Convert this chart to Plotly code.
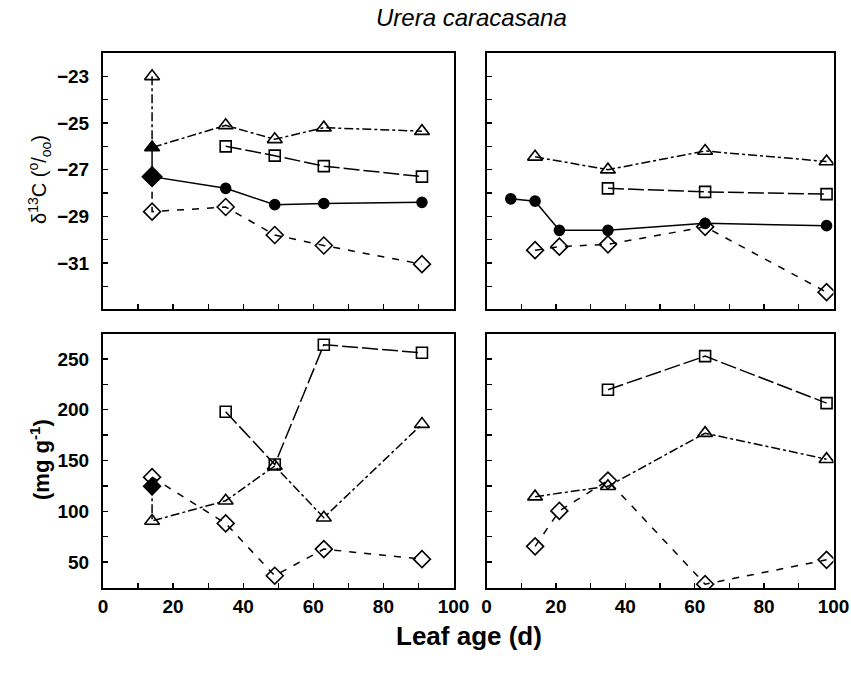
import plotly.graph_objects as go

# ---------------- data ----------------
# Top-left panel (delta 13C), leaf age in days
tl_tri_x = [14, 14, 35, 49, 63, 91]
tl_tri_y = [-23.0, -26.05, -25.1, -25.7, -25.2, -25.35]
tl_sq_x = [35, 49, 63, 91]
tl_sq_y = [-26.0, -26.4, -26.85, -27.3]
tl_circ_x = [14, 14, 35, 49, 63, 91]
tl_circ_y = [-26.05, -27.3, -27.8, -28.5, -28.45, -28.4]
tl_diam_x = [14, 14, 35, 49, 63, 91]
tl_diam_y = [-27.3, -28.8, -28.6, -29.8, -30.25, -31.05]

# Top-right panel
tr_tri_x = [14, 35, 63, 98]
tr_tri_y = [-26.45, -27.0, -26.2, -26.65]
tr_sq_x = [35, 63, 98]
tr_sq_y = [-27.8, -27.95, -28.05]
tr_circ_x = [7, 14, 21, 35, 63, 98]
tr_circ_y = [-28.25, -28.35, -29.6, -29.6, -29.3, -29.4]
tr_diam_x = [14, 21, 35, 63, 98]
tr_diam_y = [-30.45, -30.3, -30.2, -29.45, -32.25]

# Bottom-left panel (mg g-1)
bl_sq_x = [35, 49, 63, 91]
bl_sq_y = [198, 146, 264, 256]
bl_tri_x = [14, 14, 35, 49, 63, 91]
bl_tri_y = [124.6, 90.5, 110.4, 144.6, 93.7, 185.8]
bl_diam_x = [14, 35, 49, 63, 91]
bl_diam_y = [133.6, 88.1, 36.6, 62.8, 52.9]

# Bottom-right panel
br_sq_x = [35, 63, 98]
br_sq_y = [219.7, 252.7, 206.5]
br_tri_x = [14, 35, 63, 98]
br_tri_y = [114.4, 124.6, 176.9, 151.3]
br_diam_x = [14, 21, 35, 63, 98]
br_diam_y = [65.5, 100.4, 130.3, 28.3, 52.2]

x_ticks_labels = ["0", "20", "40", "60", "80", "100"]

# ---------------- styles ----------------
DASH_TRI = "9px,3px,3px,3px"
DASH_SQ = "16px,4px"
DASH_DIAM = "7px,8px"
SOLID = "solid"

fig = go.Figure()


def add(x, y, xa, ya, symbols, sizes, dash):
    fig.add_trace(go.Scatter(
        x=x, y=y, xaxis=xa, yaxis=ya, mode="lines+markers",
        line=dict(color="black", width=1.5, dash=dash),
        marker=dict(symbol=symbols, size=sizes, color="black", opacity=1,
                    line=dict(color="black", width=1.6)),
        showlegend=False, hoverinfo="skip",
    ))


def rep(sym, n):
    return [sym] * n


# Top-left
add(tl_sq_x, tl_sq_y, "x", "y", rep("square-open", 4), rep(11, 4), DASH_SQ)
add(tl_diam_x, tl_diam_y, "x", "y", rep("diamond-open", 6), [0] + rep(13, 5), DASH_DIAM)
add(tl_tri_x, tl_tri_y, "x", "y",
    ["triangle-up-open", "triangle-up"] + rep("triangle-up-open", 4), rep(13, 6), DASH_TRI)
add(tl_circ_x, tl_circ_y, "x", "y",
    ["circle", "diamond"] + rep("circle", 4), [0, 15] + rep(10, 4), SOLID)

# Top-right
add(tr_tri_x, tr_tri_y, "x2", "y2", rep("triangle-up-open", 4), rep(13, 4), DASH_TRI)
add(tr_sq_x, tr_sq_y, "x2", "y2", rep("square-open", 3), rep(11, 3), DASH_SQ)
add(tr_diam_x, tr_diam_y, "x2", "y2", rep("diamond-open", 5), rep(13, 5), DASH_DIAM)
add(tr_circ_x, tr_circ_y, "x2", "y2", rep("circle", 6), rep(10, 6), SOLID)

# Bottom-left
add(bl_sq_x, bl_sq_y, "x3", "y3", rep("square-open", 4), rep(11, 4), DASH_SQ)
add(bl_diam_x, bl_diam_y, "x3", "y3", rep("diamond-open", 5), rep(13, 5), DASH_DIAM)
add(bl_tri_x, bl_tri_y, "x3", "y3",
    ["diamond"] + rep("triangle-up-open", 5), [13] + rep(13, 5), DASH_TRI)

# Bottom-right
add(br_sq_x, br_sq_y, "x4", "y4", rep("square-open", 3), rep(11, 3), DASH_SQ)
add(br_tri_x, br_tri_y, "x4", "y4", rep("triangle-up-open", 4), rep(13, 4), DASH_TRI)
add(br_diam_x, br_diam_y, "x4", "y4", rep("diamond-open", 5), rep(13, 5), DASH_DIAM)

W, H = 851, 675
FONT = "Liberation Sans"
tickfont = dict(family=FONT, size=19, color="black", weight="bold")


def px(p):
    return p / W


def py(p):
    return 1 - p / H


xl = [px(103), px(453.5)]
xr = [px(486.5), px(833.5)]
yt = [py(308.5), py(53)]
yb = [py(588), py(333.5)]

axis_common = dict(
    showline=True, linewidth=2, linecolor="black", mirror=True,
    ticks="inside", ticklen=5, tickwidth=1.3, tickcolor="black",
    showgrid=False, zeroline=False, tickfont=tickfont, automargin=False,
)


def xaxis(domain, anchor, labels):
    d = dict(axis_common)
    d.update(domain=domain, anchor=anchor, range=[0, 100],
             tickmode="array", tickvals=[0, 20, 40, 60, 80, 100],
             ticktext=x_ticks_labels, showticklabels=labels,
             ticklabelstandoff=0,
             minor=dict(dtick=10, tick0=0, ticks="inside", ticklen=5,
                        tickwidth=1.3, tickcolor="black", showgrid=False))
    return d


def yaxis_top(domain, anchor, labels):
    d = dict(axis_common)
    d.update(domain=domain, anchor=anchor, range=[-32.95, -22.0],
             tick0=-23, dtick=2, showticklabels=labels, ticklabelstandoff=8,
             minor=dict(dtick=1, tick0=-23, ticks="inside", ticklen=5,
                        tickwidth=1.3, tickcolor="black", showgrid=False))
    return d


def yaxis_bot(domain, anchor, labels):
    d = dict(axis_common)
    d.update(domain=domain, anchor=anchor, range=[24.5, 275],
             tick0=50, dtick=50, showticklabels=labels, ticklabelstandoff=8,
             minor=dict(dtick=25, tick0=50, ticks="inside", ticklen=5,
                        tickwidth=1.3, tickcolor="black", showgrid=False))
    return d


fig.update_layout(
    width=W, height=H,
    margin=dict(l=0, r=0, t=0, b=0),
    paper_bgcolor="white", plot_bgcolor="white",
    xaxis=xaxis(xl, "y", False),
    yaxis=yaxis_top(yt, "x", True),
    xaxis2=xaxis(xr, "y2", False),
    yaxis2=yaxis_top(yt, "x2", False),
    xaxis3=xaxis(xl, "y3", True),
    yaxis3=yaxis_bot(yb, "x3", True),
    xaxis4=xaxis(xr, "y4", True),
    yaxis4=yaxis_bot(yb, "x4", False),
    annotations=[
        dict(text="<i>Urera caracasana</i>", x=px(471), y=py(18),
             xref="paper", yref="paper", showarrow=False,
             xanchor="center", yanchor="middle",
             font=dict(family=FONT, size=24, color="black")),
        dict(text="<b>Leaf age (d)</b>", x=px(469), y=py(636),
             xref="paper", yref="paper", showarrow=False,
             xanchor="center", yanchor="middle",
             font=dict(family=FONT, size=26, color="black")),
        dict(text="δ<sup>13</sup>C (<sup>o</sup>/<sub>oo</sub>)", x=px(40), y=py(180),
             xref="paper", yref="paper", showarrow=False, textangle=-90,
             xanchor="center", yanchor="middle",
             font=dict(family=FONT, size=20, color="black")),
        dict(text="<b>(mg g<sup>-1</sup>)</b>", x=px(40), y=py(460),
             xref="paper", yref="paper", showarrow=False, textangle=-90,
             xanchor="center", yanchor="middle",
             font=dict(family=FONT, size=22, color="black")),
    ],
)

# remove the default 8px body margin so the figure sits at the window origin
fig.write_html("out.html",
               config={"displayModeBar": False, "staticPlot": True},
               post_script="document.body.style.margin='0';document.body.style.overflow='hidden';")
